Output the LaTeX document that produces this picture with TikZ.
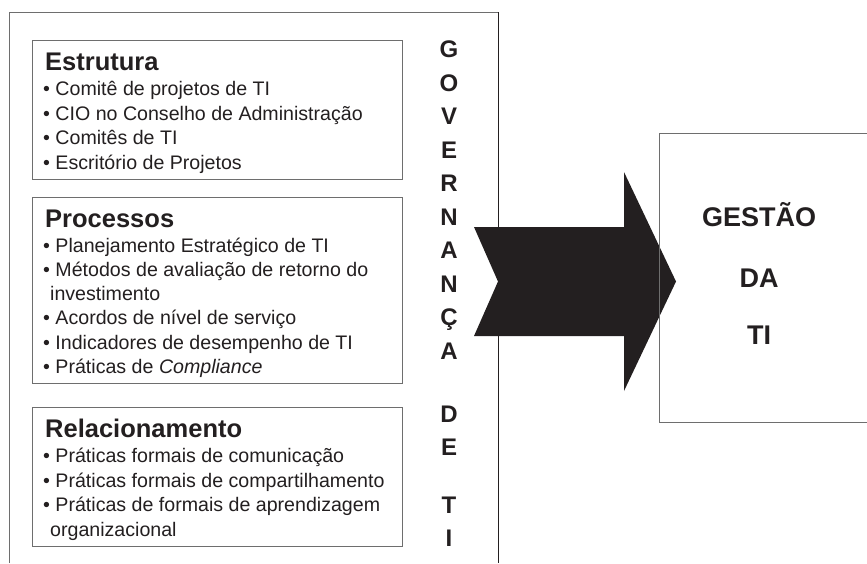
\documentclass[tikz,border=0pt]{standalone}
\usepackage{fontspec}
\setmainfont{Liberation Sans}
\definecolor{ink}{HTML}{231F20}
\definecolor{edge}{HTML}{6E6E6E}
\begin{document}
\begin{tikzpicture}[x=1pt,y=-1pt,
  txt/.style={anchor=base west,inner sep=0pt,text=ink,font=\fontsize{19.6}{24.5}\selectfont},
  ttl/.style={anchor=base west,inner sep=0pt,text=ink,font=\fontsize{25.5}{29}\selectfont\bfseries},
  vlet/.style={anchor=base,inner sep=0pt,text=ink,font=\fontsize{24}{28}\selectfont\bfseries},
  gest/.style={anchor=base,inner sep=0pt,text=ink,font=\fontsize{27}{31}\selectfont\bfseries},
  grp/.style={draw=edge,line width=0.9pt,inner sep=0pt,minimum width=370pt},
  frame/.style={draw=edge,line width=0.9pt},
]
\useasboundingbox (0,0) rectangle (867,563);
\fill[white] (0,0) rectangle (867,563);

% outer frame (open at the bottom)
\coordinate (oBL) at (9,563);
\coordinate (oTL) at (9,12);
\coordinate (oTR) at (498,12);
\coordinate (oBR) at (498,563);
\draw[frame] (oBL) -- (oTL) -- (oTR);
\draw[ink,line width=0.8pt] (oTR) -- (oBR);

% group boxes
\node[grp,minimum height=139pt] (estr) at (217,109.5) {};
\node[grp,minimum height=186pt] (proc) at (217,290) {};
\node[grp,minimum height=139pt] (rela) at (217,476.5) {};

% Estrutura
\node[ttl] (estrT) at (45,70) {Estrutura};
\node[txt] (e1) at (43,95.5) {• Comitê de projetos de TI};
\node[txt] (e2) at (43,120) {• CIO no Conselho de Administração};
\node[txt] (e3) at (43,144.5) {• Comitês de TI};
\node[txt] (e4) at (43,169) {• Escritório de Projetos};

% Processos
\node[ttl] (procT) at (45,227) {Processos};
\node[txt] (p1) at (43,252) {• Planejamento Estratégico de TI};
\node[txt] (p2) at (43,276) {• Métodos de avaliação de retorno do};
\node[txt] (p2b) at (50,300) {investimento};
\node[txt] (p3) at (43,324.5) {• Acordos de nível de serviço};
\node[txt] (p4) at (43,349) {• Indicadores de desempenho de TI};
\node[txt] (p5) at (43,373) {• Práticas de \textit{Compliance}};

% Relacionamento
\node[ttl] (relaT) at (45,437) {Relacionamento};
\node[txt] (r1) at (43,462.5) {• Práticas formais de comunicação};
\node[txt] (r2) at (43,487) {• Práticas formais de compartilhamento};
\node[txt] (r3) at (43,511.5) {• Práticas de formais de aprendizagem};
\node[txt] (r3b) at (50,536) {organizacional};

% vertical title
\node[vlet] (g1) at (449,57.5) {G};
\node[vlet] (g2) at (449,91) {O};
\node[vlet] (g3) at (449,124.5) {V};
\node[vlet] (g4) at (449,158) {E};
\node[vlet] (g5) at (449,191.5) {R};
\node[vlet] (g6) at (449,225) {N};
\node[vlet] (g7) at (449,258.5) {A};
\node[vlet] (g8) at (449,292) {N};
\node[vlet] (g9) at (449,325.5) {Ç};
\node[vlet] (g10) at (449,359) {A};
\node[vlet] (d1) at (449,422.5) {D};
\node[vlet] (d2) at (449,455.5) {E};
\node[vlet] (t1) at (449,513.5) {T};
\node[vlet] (t2) at (449,546.5) {I};

% big arrow
\coordinate (aTL) at (474,227);
\coordinate (aST) at (624,227);
\coordinate (aHT) at (624,172);
\coordinate (aTip) at (676,281.5);
\coordinate (aHB) at (624,391);
\coordinate (aSB) at (624,336);
\coordinate (aBL) at (474,336);
\coordinate (aNotch) at (498,281.5);
\fill[ink] (aTL) -- (aST) -- (aHT) -- (aTip) -- (aHB) -- (aSB) -- (aBL) -- (aNotch) -- cycle;

% Gestão box (cut at the right edge)
\coordinate (gTR) at (867,133);
\coordinate (gTL) at (659,133);
\coordinate (gBL) at (659,422);
\coordinate (gBR) at (867,422);
\draw[frame] (gTR) -- (gTL) -- (gBL) -- (gBR);
\node[gest] (gs1) at (759,226.5) {GESTÃO};
\node[gest] (gs2) at (759,287.5) {DA};
\node[gest] (gs3) at (759,344.5) {TI};
\end{tikzpicture}
\end{document}
